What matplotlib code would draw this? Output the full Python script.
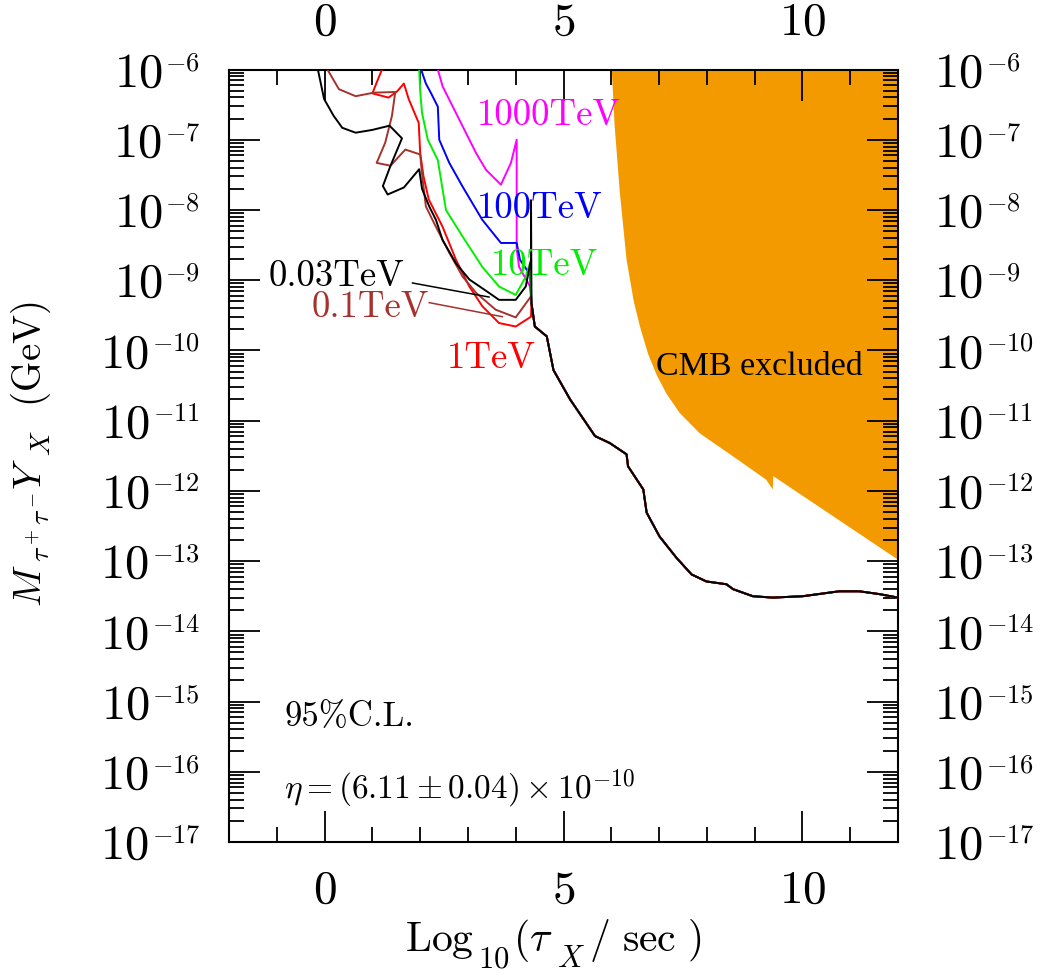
import numpy as np
import matplotlib
matplotlib.use('Agg')
import matplotlib.pyplot as plt
from matplotlib.ticker import MultipleLocator, LogLocator, FuncFormatter, NullFormatter
from matplotlib.transforms import IdentityTransform

plt.rcParams['mathtext.fontset'] = 'cm'
plt.rcParams['font.family'] = ['DejaVu Serif']

# ---- data (x = log10(tau/sec), values given as log10(M Y_X / GeV)) ----
tail_x = [4.33, 4.40, 4.65, 4.79, 5.14, 5.66, 5.97, 6.32, 6.35, 6.67, 6.74, 7.01,
          7.36, 7.68, 7.99, 8.41, 8.55, 8.96, 9.38, 10.01, 10.77, 11.19, 11.61, 12.0]
tail_logm = [-9.33, -9.66, -9.80, -10.28, -10.70, -11.22, -11.32, -11.48, -11.65, -11.98,
             -12.31, -12.65, -12.95, -13.19, -13.29, -13.33, -13.40, -13.50, -13.52,
             -13.50, -13.43, -13.43, -13.47, -13.52]

x_003 = [-0.14, -0.01, 0.19, 0.37, 0.65, 1.0, 1.36, 1.62, 1.38, 1.22, 1.32, 1.66, 1.98,
         2.04, 2.19, 2.33, 2.47, 2.75, 3.03, 3.44, 3.65, 4.0, 4.21, 4.32, 4.32]
logm_003 = [-6.0, -6.42, -6.66, -6.83, -6.90, -6.86, -6.80, -6.98, -7.37, -7.66, -7.78,
            -7.68, -7.42, -7.70, -7.95, -8.14, -8.43, -8.76, -8.99, -9.18, -9.28, -9.28,
            -9.09, -8.71, -7.86]

x_01 = [0.06, 0.30, 0.65, 1.03, 1.48, 1.41, 1.27, 1.09, 1.38, 1.69, 2.0, 2.05, 2.12,
        2.33, 2.61, 2.89, 3.17, 3.58, 4.0, 4.32]
logm_01 = [-6.0, -6.28, -6.38, -6.33, -6.32, -6.66, -7.04, -7.33, -7.37, -7.14, -7.21,
           -7.55, -7.95, -8.24, -8.61, -8.95, -9.18, -9.42, -9.53, -9.23]

x_1 = [1.20, 1.0, 1.34, 1.52, 1.66, 1.76, 1.97, 2.0, 2.07, 2.18, 2.47, 2.75, 3.03,
       3.30, 3.65, 4.0, 4.32]
logm_1 = [-6.0, -6.34, -6.40, -6.31, -6.20, -6.42, -6.76, -7.18, -7.52, -7.85, -8.24,
          -8.71, -9.09, -9.37, -9.61, -9.66, -9.52]

x_10 = [1.98, 2.0, 2.04, 2.16, 2.37, 2.54, 2.89, 3.30, 3.65, 4.0, 4.21, 4.30]
logm_10 = [-6.0, -6.3, -6.62, -7.0, -7.29, -8.0, -8.38, -8.81, -9.09, -9.21, -8.95, -8.75]

x_100 = [2.02, 2.12, 2.23, 2.37, 2.40, 2.61, 2.89, 3.30, 3.69, 4.02, 4.09, 4.30]
logm_100 = [-6.0, -6.20, -6.34, -6.53, -7.0, -7.33, -7.67, -8.14, -8.47, -8.47, -8.71, -8.92]

x_1000 = [2.37, 2.47, 2.75, 3.17, 3.38, 3.69, 3.90, 4.02, 4.02, 4.07, 4.30]
logm_1000 = [-6.0, -6.24, -6.62, -7.19, -7.43, -7.64, -7.33, -7.0, -8.55, -8.81, -9.09]

cmb_x = [6.01, 6.07, 6.18, 6.32, 6.47, 6.60, 6.77, 6.95, 7.15, 7.43, 7.85, 8.55, 9.24,
         9.38, 9.39, 12.0, 12.0]
cmb_logm = [-6.0, -6.8, -7.76, -8.71, -9.3, -9.66, -10.05, -10.35, -10.61, -10.89, -11.18,
            -11.51, -11.84, -11.98, -11.79, -12.98, -6.0]

series = [
    ('1000TeV', x_1000, logm_1000, '#ff00ff'),
    ('100TeV', x_100, logm_100, '#0000ff'),
    ('10TeV', x_10, logm_10, '#00ee00'),
    ('1TeV', x_1, logm_1, '#ff0000'),
    ('0.1TeV', x_01, logm_01, '#a5322d'),
    ('0.03TeV', x_003, logm_003, '#000000'),
]

# label positions (x, log10 y at baseline)
labels = {
    '1000TeV': (3.19, -6.79),
    '100TeV': (3.19, -8.11),
    '10TeV': (3.47, -8.92),
    '1TeV': (2.56, -10.25),
    '0.1TeV': (-0.28, -9.53),
    '0.03TeV': (-1.18, -9.08),
}
leader_003 = ([1.84, 3.44], [-9.04, -9.24])
leader_01 = ([2.19, 3.72], [-9.32, -9.52])
decades = list(range(-17, -5))

W, H = 1046, 977
fig = plt.figure(figsize=(W / 100, H / 100), dpi=100)
L, R, T, B = 229, 898, 69.5, 842
ax = fig.add_axes([L / W, 1 - B / H, (R - L) / W, (B - T) / H])

ax.fill(cmb_x, 10.0 ** np.array(cmb_logm), color='#f39a00', lw=0, zorder=1)

for name, xs, ls, c in series:
    xx = list(xs) + tail_x
    yy = 10.0 ** np.array(list(ls) + tail_logm)
    ax.plot(xx, yy, color=c, lw=1.4, zorder=3)
    lx, ly = labels[name]
    ax.text(lx, 10 ** ly, name, family='cmr10', color=c, fontsize=26.5,
            ha='left', va='baseline', zorder=4)

ax.plot(leader_003[0], 10.0 ** np.array(leader_003[1]), color='#000000', lw=1.1, zorder=3)
ax.plot(leader_01[0], 10.0 ** np.array(leader_01[1]), color='#a5322d', lw=1.1, zorder=3)

ax.text(6.94, 10 ** -10.35, 'CMB excluded', family='Liberation Serif', fontsize=24.5,
        ha='left', va='baseline', zorder=4)
ax.text(-0.84, 10 ** -15.35, '95%C.L.', family='cmr10', fontsize=25, ha='left', va='baseline')
ax.text(-0.85, 10 ** -16.38, r'$\eta=(6.11\pm0.04)\times10^{-10}$', fontsize=24,
        ha='left', va='baseline')

ax.set_xlim(-2, 12)
ax.set_yscale('log')
ax.set_ylim(1e-17, 1e-6)

ax.xaxis.set_major_locator(MultipleLocator(5))
ax.xaxis.set_minor_locator(MultipleLocator(1))
ax.xaxis.set_major_formatter(FuncFormatter(lambda v, p: r'$%d$' % round(v)))
ax.yaxis.set_major_locator(LogLocator(base=10, numticks=30))
ax.yaxis.set_minor_locator(LogLocator(base=10, subs=np.arange(2, 10), numticks=300))
ax.yaxis.set_minor_formatter(NullFormatter())

ax.tick_params(which='both', direction='in', top=True, right=True, bottom=True, left=True,
               labeltop=True, labelright=False, labelleft=False, width=1.3, color='black')
ax.tick_params(which='major', length=22, labelsize=34)
ax.tick_params(which='minor', length=11)
ax.tick_params(axis='x', which='major', pad=18)
for s in ax.spines.values():
    s.set_linewidth(1.5)

# ---- composed texts (pieces with own sizes) ----
renderer = fig.canvas.get_renderer()


def text_width(s, size):
    t = fig.text(0, 0, s, fontsize=size)
    w = t.get_window_extent(renderer).width
    t.remove()
    return w


def draw_pieces(x0, y0, pieces, rotation=0, gap=2.0, align='left'):
    widths = [text_width(s, size) for s, size, _ in pieces]
    total = sum(widths) + gap * (len(pieces) - 1)
    pos = -total if align == 'right' else 0.0
    for (s, size, drop), w in zip(pieces, widths):
        if rotation == 0:
            x, y = x0 + pos, y0 - drop
        else:
            x, y = x0 + drop, y0 + pos
        fig.text(x, y, s, fontsize=size, transform=IdentityTransform(), rotation=rotation,
                 rotation_mode='anchor', ha='left', va='baseline')
        pos += w + gap


# y tick labels: "10" with small exponent, on both sides
for d in decades:
    yt = ax.transData.transform((0, 10.0 ** d))[1]
    pieces = [(r'$10$', 35, 0), (r'$%d$' % d, 19, -16.5)]
    draw_pieces(200, yt - 17, pieces, gap=3, align='right')
    draw_pieces(934, yt - 17, pieces, gap=3, align='left')

# axis titles
draw_pieces(405, H - 951, [(r'$\mathrm{Log}$', 30, 0), (r'$\mathrm{10}$', 22, 16),
                           (r'$(\tau$', 30, 0), (r'$X$', 22, 16),
                           (r'$/\ \mathrm{sec}\ )$', 30, 0)], gap=4)
draw_pieces(41, H - 607, [(r'$M$', 28, 0), (r'$\tau^+\tau^-$', 20, 9), (r'$Y$', 28, 0),
                          (r'$X$', 20, 9), (r'$\ \ \mathrm{(GeV)}$', 28, 0)],
            rotation=90, gap=2)

fig.savefig('out.png', dpi=100)
